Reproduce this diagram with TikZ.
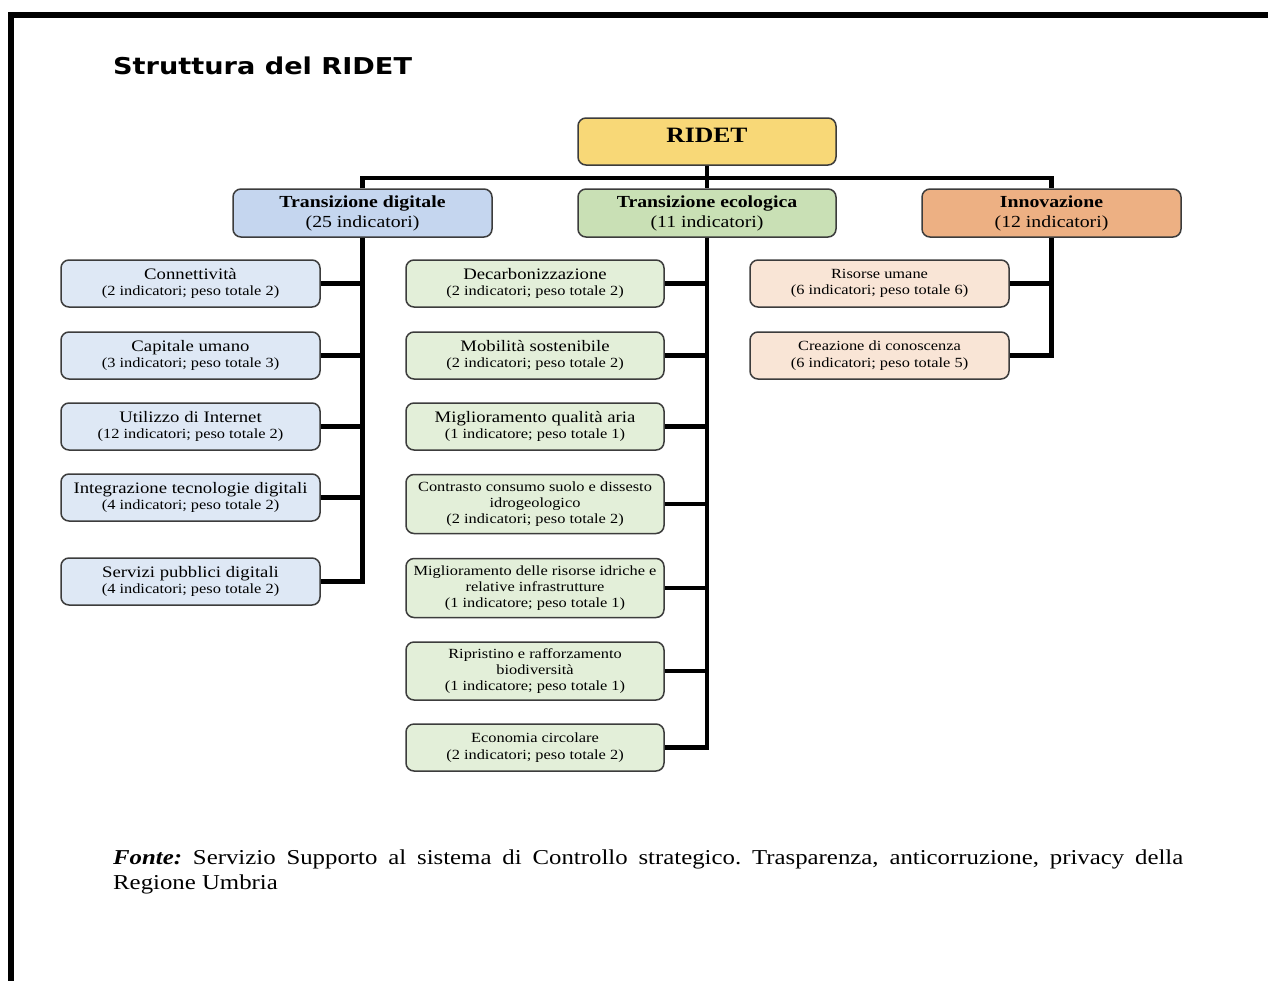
\documentclass[tikz,border=0pt]{standalone}
\usepackage{fontspec}
\setmainfont{Liberation Serif}[FakeStretch=1.17]
\newfontfamily\titlefont{DejaVu Sans}[FakeStretch=1.17]
\definecolor{cridet}{RGB}{248,216,119}
\definecolor{hdig}{RGB}{197,214,239}
\definecolor{heco}{RGB}{201,224,181}
\definecolor{hinn}{RGB}{237,176,131}
\definecolor{sdig}{RGB}{222,232,245}
\definecolor{seco}{RGB}{227,239,217}
\definecolor{sinn}{RGB}{249,229,214}
\definecolor{boxline}{RGB}{60,60,60}
\newcommand\bigt[1]{{\fontsize{16}{16.5}\selectfont #1}}
\frenchspacing
\begin{document}
\begin{tikzpicture}[x=1pt,y=-1pt,
  box/.style={draw=boxline, line width=1.5pt, rounded corners=8pt, align=center,
    inner sep=0pt, minimum width=259pt, minimum height=47pt,
    font=\fontsize{14}{16.5}\selectfont},
  hdr/.style={box, minimum height=48pt, font=\bfseries\fontsize{16.9}{20}\selectfont},
  tall/.style={minimum height=59pt, font=\fontsize{14}{16}\selectfont},
  conn/.style={line width=4.5pt, black},
]
\useasboundingbox (0,0) rectangle (1268,980);
\fill[white] (0,0) rectangle (1268,980);
% frame
\draw[line width=5.5pt, line join=miter] (11,990) -- (11,15) -- (1280,15);
% title
\node[anchor=base west, inner sep=0pt, font=\titlefont\bfseries\fontsize{23.2}{26}\selectfont] (title) at (113,74) {Struttura del RIDET};
% root and headers
\node[box, fill=cridet, minimum width=258pt, minimum height=47pt] (ridet) at (707,141.5) {};
\node[inner sep=0pt, font=\bfseries\fontsize{21.9}{24}\selectfont] (ridett) at ([yshift=6pt]ridet.center) {RIDET};
\node[hdr, fill=hdig] (td) at (362.5,213) {Transizione digitale\\{\mdseries (25 indicatori)}};
\node[hdr, fill=heco, minimum width=258pt] (te) at (707,213) {Transizione ecologica\\{\mdseries (11 indicatori)}};
\node[hdr, fill=hinn] (ti) at (1051.5,213) {Innovazione\\{\mdseries (12 indicatori)}};
% digital
\node[box, fill=sdig] (s1) at (190.5,283.5) {\bigt{Connettività}\\(2 indicatori; peso totale 2)};
\node[box, fill=sdig] (s2) at (190.5,355.5) {\bigt{Capitale umano}\\(3 indicatori; peso totale 3)};
\node[box, fill=sdig] (s3) at (190.5,426.5) {\bigt{Utilizzo di Internet}\\(12 indicatori; peso totale 2)};
\node[box, fill=sdig] (s4) at (190.5,497.5) {\bigt{Integrazione tecnologie digitali}\\(4 indicatori; peso totale 2)};
\node[box, fill=sdig] (s5) at (190.5,581.5) {\bigt{Servizi pubblici digitali}\\(4 indicatori; peso totale 2)};
% ecological
\node[box, fill=seco, minimum width=258pt] (e1) at (535,283.5) {\bigt{Decarbonizzazione}\\(2 indicatori; peso totale 2)};
\node[box, fill=seco, minimum width=258pt] (e2) at (535,355.5) {\bigt{Mobilità sostenibile}\\(2 indicatori; peso totale 2)};
\node[box, fill=seco, minimum width=258pt] (e3) at (535,426.5) {\bigt{Miglioramento qualità aria}\\(1 indicatore; peso totale 1)};
\node[box, tall, fill=seco, minimum width=258pt] (e4) at (535,504) {Contrasto consumo suolo e dissesto\\idrogeologico\\(2 indicatori; peso totale 2)};
\node[box, tall, fill=seco, minimum width=258pt] (e5) at (535,588) {Miglioramento delle risorse idriche e\\relative infrastrutture\\(1 indicatore; peso totale 1)};
\node[box, tall, fill=seco, minimum width=258pt, minimum height=58pt] (e6) at (535,671) {Ripristino e rafforzamento\\biodiversità\\(1 indicatore; peso totale 1)};
\node[box, fill=seco, minimum width=258pt] (e7) at (535,747.5) {Economia circolare\\(2 indicatori; peso totale 2)};
% innovation
\node[box, fill=sinn] (i1) at (879.5,283.5) {Risorse umane\\(6 indicatori; peso totale 6)};
\node[box, fill=sinn] (i2) at (879.5,355.5) {Creazione di conoscenza\\(6 indicatori; peso totale 5)};
% connectors
\coordinate (bus) at (707,178);
\draw[conn] (ridet.south) -- (te.north);
\draw[conn, line join=miter] (td.north) -- (td.north |- bus) -- (ti.north |- bus) -- (ti.north);
\draw[conn, line join=miter] (td.south) -- (td.south |- s5.east) -- (s5.east);
\foreach \n in {s1,s2,s3,s4} \draw[conn] (\n.east) -- (\n.east -| td.south);
\draw[conn, line join=miter] (te.south) -- (te.south |- e7.east) -- (e7.east);
\foreach \n in {e1,e2,e3,e4,e5,e6} \draw[conn] (\n.east) -- (\n.east -| te.south);
\draw[conn, line join=miter] (ti.south) -- (ti.south |- i2.east) -- (i2.east);
\draw[conn] (i1.east) -- (i1.east -| ti.south);
% footer
\node[anchor=base west, inner sep=0pt, font=\fontsize{21.2}{25}\selectfont] (f1) at (113,864)
  {\makebox[1070pt][s]{\textbf{\textit{Fonte:}} Servizio Supporto al sistema di Controllo strategico. Trasparenza, anticorruzione, privacy della}};
\node[anchor=base west, inner sep=0pt, font=\fontsize{21.2}{25}\selectfont] (f2) at (113,889) {Regione Umbria};
\end{tikzpicture}
\end{document}
